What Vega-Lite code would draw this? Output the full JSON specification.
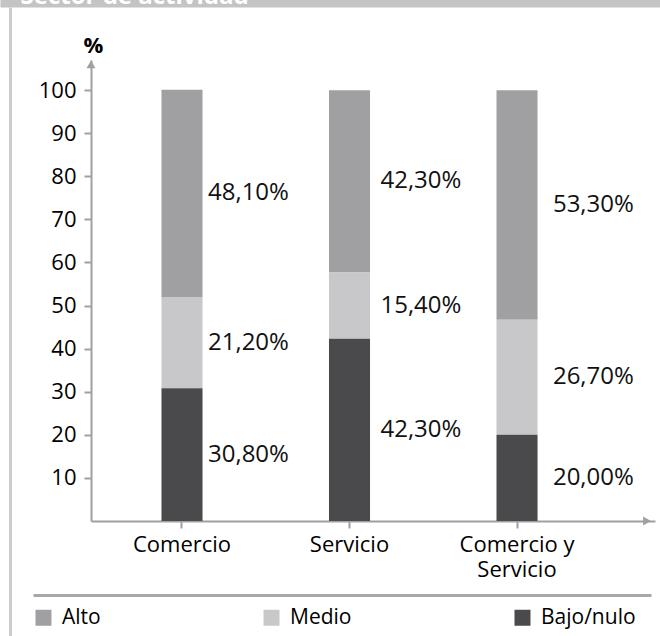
{
  "$schema": "https://vega.github.io/schema/vega-lite/v6.json",
  "width": 564,
  "height": 461,
  "autosize": {"type": "none"},
  "padding": {"left": 91, "top": 60, "right": 5, "bottom": 115},
  "background": "white",
  "config": {"view": {"stroke": null}, "font": "Open Sans", "axis": {"grid": false}},
  "datasets": {
    "main": [
      {"sector": "Comercio", "nivel": "Alto", "valor": 48.1, "rank": 3, "etiqueta": "48,10%"},
      {"sector": "Comercio", "nivel": "Medio", "valor": 21.2, "rank": 2, "etiqueta": "21,20%"},
      {"sector": "Comercio", "nivel": "Bajo/nulo", "valor": 30.8, "rank": 1, "etiqueta": "30,80%"},
      {"sector": "Servicio", "nivel": "Alto", "valor": 42.3, "rank": 3, "etiqueta": "42,30%"},
      {"sector": "Servicio", "nivel": "Medio", "valor": 15.4, "rank": 2, "etiqueta": "15,40%"},
      {"sector": "Servicio", "nivel": "Bajo/nulo", "valor": 42.3, "rank": 1, "etiqueta": "42,30%"},
      {"sector": "Comercio y Servicio", "nivel": "Alto", "valor": 53.3, "rank": 3, "etiqueta": "53,30%"},
      {"sector": "Comercio y Servicio", "nivel": "Medio", "valor": 26.7, "rank": 2, "etiqueta": "26,70%"},
      {"sector": "Comercio y Servicio", "nivel": "Bajo/nulo", "valor": 20.0, "rank": 1, "etiqueta": "20,00%"}
    ],
    "arrows": [
      {"eje": "y", "ax": 0, "ay": 106},
      {"eje": "x", "ax": 1, "ay": 0}
    ],
    "frame": [{"f": 0}, {"f": 1}]
  },
  "resolve": {"scale": {"x": "independent", "y": "independent"}},
  "layer": [
    {
      "data": {"name": "frame"},
      "mark": {"type": "point", "opacity": 0},
      "encoding": {
        "x": {"field": "f", "type": "quantitative",
              "scale": {"domain": [0, 1], "range": [-58, 560], "nice": false, "zero": false},
              "axis": {"orient": "bottom", "offset": 74, "domain": true, "domainColor": "#a8a8a8", "domainWidth": 3, "ticks": false, "labels": false, "title": null, "grid": false}},
        "y": {"field": "f", "type": "quantitative",
              "scale": {"domain": [0, 1], "range": [576, -53], "nice": false, "zero": false},
              "axis": {"orient": "left", "offset": 81, "domain": true, "domainColor": "#cccccc", "domainWidth": 3, "ticks": false, "labels": false, "title": null, "grid": false}}
      }
    },
    {
      "data": {"name": "frame"},
      "mark": {"type": "point", "opacity": 0},
      "encoding": {
        "x": {"field": "f", "type": "quantitative",
              "scale": {"domain": [0, 1], "range": [-91, 569], "nice": false, "zero": false},
              "axis": {"orient": "top", "offset": 60, "domain": true, "domainColor": "#c4c4c6", "domainWidth": 14,
                       "ticks": false, "labels": false, "grid": false,
                       "title": "Sector de actividad", "titleColor": "white", "titleFontSize": 24, "titleFontWeight": "bold",
                       "titleAnchor": "start", "titleAlign": "left", "titleX": -71, "titleY": 3, "titleBaseline": "alphabetic"}},
        "y": {"field": "f", "type": "quantitative", "scale": {"domain": [0, 1]}, "axis": null}
      }
    },
    {
      "data": {"name": "main"},
      "mark": {"type": "bar"},
      "encoding": {
        "x": {"field": "sector", "type": "nominal", "sort": ["Comercio", "Servicio", "Comercio y Servicio"],
              "scale": {"paddingInner": 0.755, "paddingOuter": 0.561, "align": 0.375},
              "axis": {"orient": "bottom", "domainColor": "#a0a0a0", "domainWidth": 2, "tickColor": "#a0a0a0", "tickWidth": 2, "tickSize": 7,
                       "labelFontSize": 22, "labelColor": "black", "labelPadding": 6, "labelAngle": 0, "labelLineHeight": 25,
                       "labelExpr": "datum.value == 'Comercio y Servicio' ? ['Comercio y', 'Servicio'] : datum.value", "title": null}},
        "y": {"field": "valor", "type": "quantitative", "stack": "zero",
              "scale": {"domain": [0, 107], "nice": false},
              "axis": {"orient": "left", "values": [10, 20, 30, 40, 50, 60, 70, 80, 90, 100], "domainColor": "#a0a0a0", "domainWidth": 2,
                       "tickColor": "#a0a0a0", "tickWidth": 2, "tickSize": 7, "labelFontSize": 22, "labelColor": "black", "labelPadding": 8,
                       "title": "%", "titleAngle": 0, "titleFontSize": 22, "titleFontWeight": "bold", "titleColor": "black",
                       "titleX": 2, "titleY": -8, "titleAlign": "center", "titleBaseline": "alphabetic"}},
        "color": {"field": "nivel", "type": "nominal",
                  "scale": {"domain": ["Alto", "Medio", "Bajo/nulo"], "range": ["#a0a0a2", "#c8c8ca", "#4a4a4c"]},
                  "legend": {"orient": "none", "legendX": -58, "legendY": 547, "direction": "horizontal", "symbolType": "square",
                             "symbolSize": 256, "symbolStrokeWidth": 0, "labelFontSize": 21, "labelColor": "black",
                             "columnPadding": 160, "labelOffset": 8, "title": null}},
        "order": {"field": "rank", "type": "quantitative", "sort": "ascending"}
      }
    },
    {
      "data": {"name": "main"},
      "transform": [
        {"stack": "valor", "groupby": ["sector"], "sort": [{"field": "rank", "order": "ascending"}], "as": ["v0", "v1"]},
        {"calculate": "(datum.v0 + datum.v1) / 2", "as": "vmid"}
      ],
      "mark": {"type": "text", "align": "left", "baseline": "middle", "fontSize": 24, "color": "#111111"},
      "encoding": {
        "x": {"field": "sector", "type": "nominal", "sort": ["Comercio", "Servicio", "Comercio y Servicio"],
              "scale": {"type": "point", "padding": 0.635, "align": 0.534}, "axis": null},
        "y": {"field": "vmid", "type": "quantitative", "scale": {"domain": [0, 107], "nice": false}, "axis": null},
        "text": {"field": "etiqueta"}
      }
    },
    {
      "data": {"name": "arrows"},
      "mark": {"type": "point", "filled": true, "color": "#a0a0a0", "opacity": 1, "size": 80},
      "encoding": {
        "x": {"field": "ax", "type": "quantitative", "scale": {"domain": [0, 1], "range": [0, 556], "nice": false}, "axis": null},
        "y": {"field": "ay", "type": "quantitative", "scale": {"domain": [0, 107], "nice": false}, "axis": null},
        "shape": {"field": "eje", "type": "nominal", "scale": {"domain": ["y", "x"], "range": ["triangle-up", "triangle-right"]}, "legend": null}
      }
    }
  ]
}
